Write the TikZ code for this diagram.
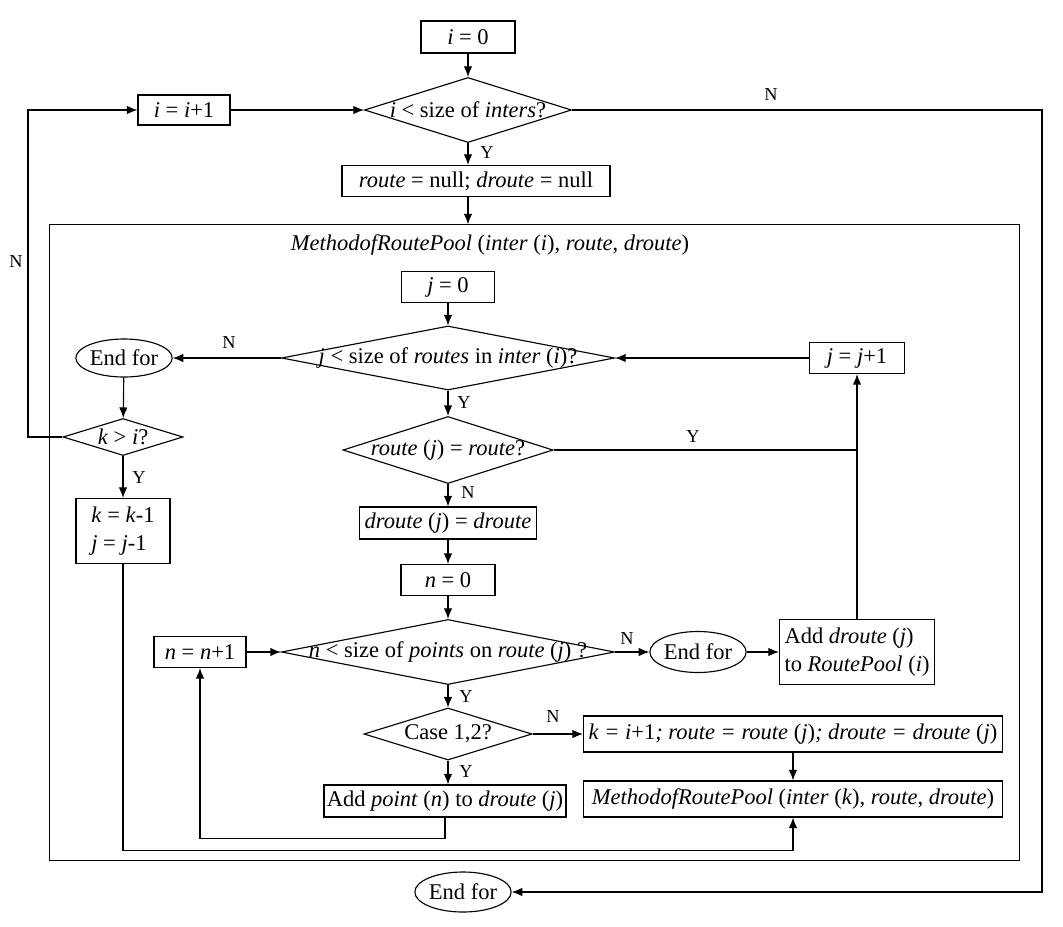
\documentclass[tikz,border=0pt]{standalone}
\usepackage{fontspec}
\setmainfont{Liberation Serif}
\usetikzlibrary{shapes.geometric,arrows.meta}
\begin{document}
\begin{tikzpicture}[x=0.025cm,y=-0.025cm,
    font=\fontsize{16}{20}\selectfont, line width=0.8pt,
    process/.style={draw, rectangle, inner sep=2pt},
    decision/.style 2 args={draw, diamond, inner sep=0pt, minimum width=#1, minimum height=#2},
    terminal/.style={draw, ellipse, inner sep=0pt},
    answer/.style={font=\fontsize{13}{15}\selectfont, inner sep=0pt}]
      \useasboundingbox (0,0) rectangle (1063,926);
      \draw
        (468,37) node[process, minimum width=2.35cm, minimum height=0.8cm] (i0){\textit{i} = 0}
        (468,110) node[decision={5.175cm}{1.625cm}, label=center:{\textit{i} < size of \textit{inters}?}] (d1){}
        (184,110) node[process, minimum width=2.3cm, minimum height=0.75cm] (inci){\textit{i} = \textit{i}+1}
        (476,181) node[process, minimum width=6.7cm, minimum height=0.775cm] (null){\textit{route} = null; \textit{droute} = null}
        (534.5,542.5) node[draw, minimum width=24.225cm, minimum height=15.875cm] (pool){}
        (490,245) node (title){\textit{MethodofRoutePool} (\textit{inter} (\textit{i}), \textit{route}, \textit{droute})}
        (448,287) node[process, minimum width=2.325cm, minimum height=0.775cm] (j0){\textit{j} = 0}
        (448,358) node[decision={8.325cm}{1.6cm}, label=center:{\textit{j} < size of \textit{routes} in \textit{inter} (\textit{i})?}] (d2){}
        (857,358) node[process, minimum width=2.375cm, minimum height=0.775cm] (incj){\textit{j} = \textit{j}+1}
        (124,358) node[terminal, minimum width=2.375cm, minimum height=0.95cm] (endj){End for}
        (123,437) node[decision={3cm}{0.925cm}, label=center:{\textit{k} > \textit{i}?}] (dk){}
        (123,531) node[process, align=left, minimum width=2.35cm, minimum height=1.625cm] (kdec){\textit{k} = \textit{k}-1\\\textit{j} = \textit{j}-1}
        (448,450) node[decision={5.25cm}{1.675cm}, label=center:{\textit{route} (\textit{j}) = \textit{route}?}] (d3){}
        (448,523) node[process, minimum width=4.425cm, minimum height=0.8cm] (dset){\textit{droute} (\textit{j}) = \textit{droute}}
        (448,580) node[process, minimum width=2.35cm, minimum height=0.775cm] (n0){\textit{n} = 0}
        (448,652) node[decision={8.325cm}{1.625cm}, label=center:{\textit{n} < size of \textit{points} on \textit{route} (\textit{j}) ?}] (d4){}
        (200,652) node[process, minimum width=2.3cm, minimum height=0.775cm] (incn){\textit{n} = \textit{n}+1}
        (698,652) node[terminal, minimum width=2.325cm, minimum height=1.025cm] (endn){End for}
        (857,652) node[process, align=left, minimum width=3.875cm, minimum height=1.625cm] (addr){Add \textit{droute} (\textit{j})\\to \textit{RoutePool} (\textit{i})}
        (448,734) node[decision={4.2cm}{1.3cm}, label=center:{Case 1,2?}] (d5){}
        (793,734) node[process, minimum width=10.475cm, minimum height=0.9cm] (kset){\textit{k = i}+1\textit{; route = route} (\textit{j})\textit{; droute = droute} (\textit{j})}
        (793,799) node[process, minimum width=10.475cm, minimum height=0.9cm] (call){\textit{MethodofRoutePool} (\textit{inter} (\textit{k}), \textit{route}, \textit{droute})}
        (445,801) node[process, minimum width=5.8cm, minimum height=0.8cm] (addp){Add \textit{point} (\textit{n}) to \textit{droute} (\textit{j})}
        (463,892) node[terminal, minimum width=2.325cm, minimum height=1cm] (endi){End for};
      \draw
        (487,153) node[answer] (y1){Y}
        (771,95) node[answer] (n1){N}
        (16,262) node[answer] (n2){N}
        (229,343) node[answer] (n3){N}
        (464,403) node[answer] (y2){Y}
        (693,437) node[answer] (y3){Y}
        (139,478) node[answer] (y4){Y}
        (468,493) node[answer] (n4){N}
        (627,639) node[answer] (n5){N}
        (466,697) node[answer] (y5){Y}
        (553,717) node[answer] (n6){N}
        (466,772) node[answer] (y6){Y};
      \coordinate (rt) at (1042,110);
      \coordinate (lt) at (28,437);
      \begin{scope}[-{Latex[length=7.5pt,width=6pt]}]
        \draw (i0) to (d1);
        \draw (d1.south) to (d1.south |- null.north);
        \draw (inci) to (d1.west);
        \draw (d1.east) -- (rt) |- (endi.east);
        \draw (null.south -| i0) to (pool.north -| i0);
        \draw (j0) to (d2);
        \draw (d2.west) to (endj.east);
        \draw (incj.west) to (d2.east);
        \draw (endj) to (dk);
        \draw (dk.west) -- (lt) |- (inci.west);
        \draw (dk.south) to (kdec.north);
        \draw (d2.south) to (d3.north);
        \draw (addr.north) to (incj.south);
        \draw (d3.south) to (dset.north);
        \draw (dset) to (n0);
        \draw (n0) to (d4);
        \draw (incn) to (d4.west);
        \draw (d4.east) to (endn.west);
        \draw (endn) to (addr.west);
        \draw (d4.south) to (d5.north);
        \draw (d5.east) to (kset.west);
        \draw (d5.south) to (d5.south |- addp.north);
        \draw (kset) to (call);
        \draw (addp.south) -- ++(0,21) -| (incn.south);
        \draw (kdec.south) -- ++(0,286) -| (call.south);
      \end{scope}
      \begin{scope}[-]
        \draw (d3.east) to (d3.east -| addr.north);
      \end{scope}
    \end{tikzpicture}
\end{document}
